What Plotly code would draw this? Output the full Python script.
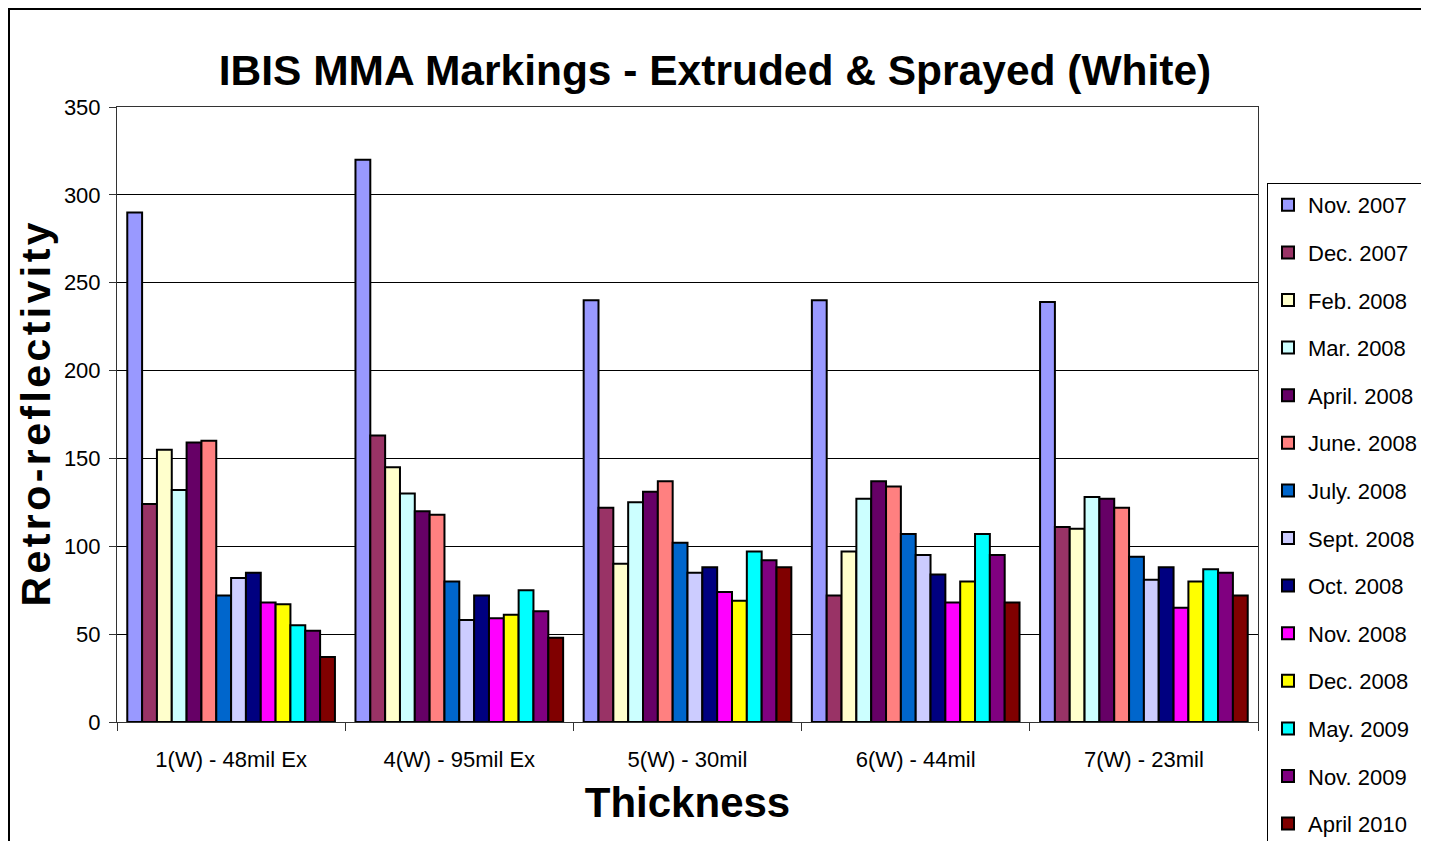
import plotly.graph_objects as go

categories = ["1(W) - 48mil Ex", "4(W) - 95mil Ex", "5(W) - 30mil", "6(W) - 44mil", "7(W) - 23mil"]

series_names = ["Nov. 2007", "Dec. 2007", "Feb. 2008", "Mar. 2008", "April. 2008", "June. 2008",
                "July. 2008", "Sept. 2008", "Oct. 2008", "Nov. 2008", "Dec. 2008", "May. 2009",
                "Nov. 2009", "April 2010"]

nov_2007 = [290, 320, 240, 240, 239]
dec_2007 = [124, 163, 122, 72, 111]
feb_2008 = [155, 145, 90, 97, 110]
mar_2008 = [132, 130, 125, 127, 128]
apr_2008 = [159, 120, 131, 137, 127]
jun_2008 = [160, 118, 137, 134, 122]
jul_2008 = [72, 80, 102, 107, 94]
sep_2008 = [82, 58, 85, 95, 81]
oct_2008 = [85, 72, 88, 84, 88]
nov_2008 = [68, 59, 74, 68, 65]
dec_2008 = [67, 61, 69, 80, 80]
may_2009 = [55, 75, 97, 107, 87]
nov_2009 = [52, 63, 92, 95, 85]
apr_2010 = [37, 48, 88, 68, 72]

series_values = [nov_2007, dec_2007, feb_2008, mar_2008, apr_2008, jun_2008, jul_2008,
                 sep_2008, oct_2008, nov_2008, dec_2008, may_2009, nov_2009, apr_2010]

colors = ["#9999FF", "#993366", "#FFFFCC", "#CCFFFF", "#660066", "#FF8080", "#0066CC",
          "#CCCCFF", "#000080", "#FF00FF", "#FFFF00", "#00FFFF", "#800080", "#800000"]

y_ticks = [0, 50, 100, 150, 200, 250, 300, 350]

FONT = "Liberation Sans, Arial, sans-serif"
HS = "\u200a"  # hair space for the letter-spaced axis title
y_title = HS.join("Retro-reflectivity")

# figure geometry (page is offset by the 8px body margin)
W, H = 1421, 833
ML, MR, MT, MB = 109, 171, 99, 119
PW, PH = W - ML - MR, H - MT - MB

fig = go.Figure()
for name, vals, col in zip(series_names, series_values, colors):
    fig.add_trace(go.Bar(
        name=name, x=categories, y=vals, legendgroup=name,
        marker=dict(color=col, line=dict(color="black", width=2)),
    ))

fig.update_layout(
    width=W, height=H,
    paper_bgcolor="white", plot_bgcolor="white",
    margin=dict(l=ML, r=MR, t=MT, b=MB, autoexpand=False),
    barmode="group", bargap=0.09, bargroupgap=0,
    title=dict(text="<b>IBIS MMA Markings - Extruded & Sprayed (White)</b>",
               x=707 / W, xref="container", xanchor="center", y=1 - 62 / H, yref="container",
               yanchor="middle",
               font=dict(family=FONT, size=42.5, color="black")),
    font=dict(family=FONT, color="black"),
    showlegend=True,
    legend=dict(x=(1259 - ML) / PW, xanchor="left", y=(PH + MT - 175) / PH, yanchor="top",
                bordercolor="black", borderwidth=1, bgcolor="white",
                font=dict(family=FONT, size=22, color="black"),
                tracegroupgap=16, maxheight=900, itemwidth=30),
    xaxis=dict(
        tickson="boundaries", ticks="outside", ticklen=8, tickcolor="#333333",
        showline=True, linecolor="#333333", linewidth=1, mirror=True,
        tickfont=dict(family=FONT, size=22, color="black"),
        ticklabelstandoff=18,
        title=dict(text="<b>Thickness</b>", font=dict(family=FONT, size=42, color="black"),
                   standoff=16),
        showgrid=False,
    ),
    yaxis=dict(
        range=[0, 350], tickvals=y_ticks, ticks="outside", ticklen=7, tickcolor="#333333",
        showline=True, linecolor="#333333", linewidth=1, mirror=True,
        tickfont=dict(family=FONT, size=22, color="black"),
        ticklabelstandoff=4,
        showgrid=True, gridcolor="black", gridwidth=1,
        title=dict(text="<b>" + y_title + "</b>",
                   font=dict(family=FONT, size=41, color="black"),
                   standoff=0),
        zeroline=False,
    ),
)

# outer chart frame
fig.add_shape(type="rect", xref="paper", yref="paper",
              x0=(1 - ML) / PW, x1=(1415 - ML) / PW,
              y0=(PH + MT - 860) / PH, y1=(PH + MT - 1) / PH,
              line=dict(color="black", width=2), fillcolor="rgba(0,0,0,0)", layer="below")

fig.write_html("out.html")
